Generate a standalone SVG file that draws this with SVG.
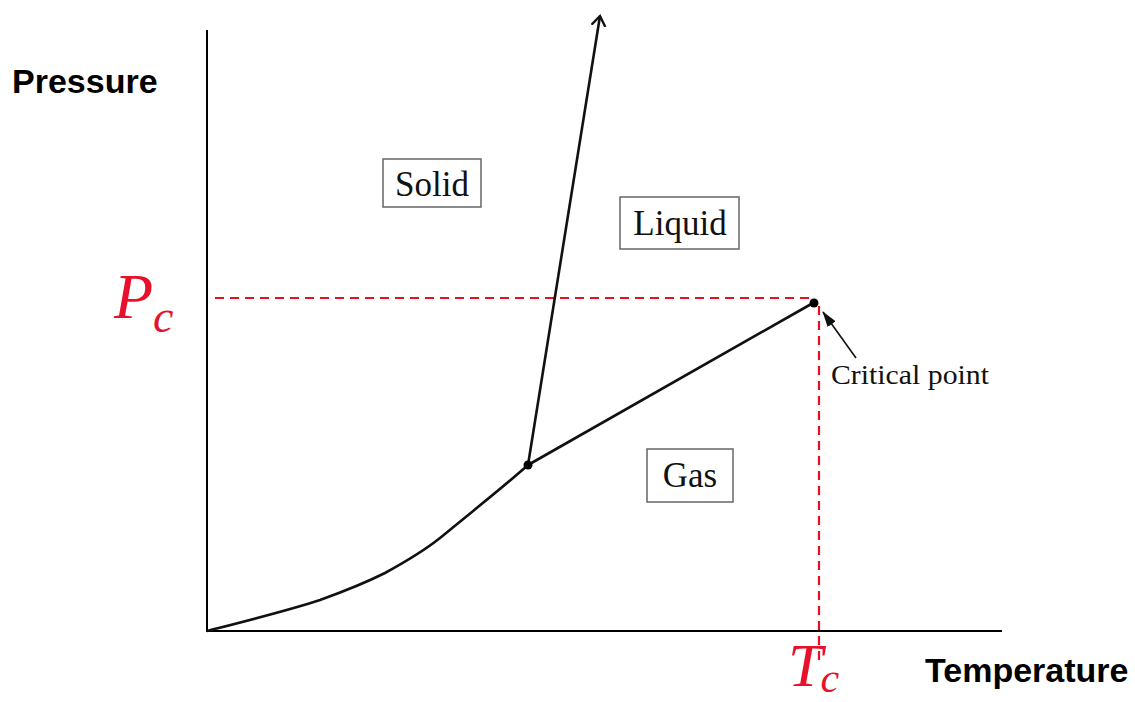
<svg xmlns="http://www.w3.org/2000/svg" width="1135" height="702" viewBox="0 0 1135 702">
<style>
.axis{stroke:#000;stroke-width:2;fill:none}
.curve{stroke:#111;stroke-width:2.6;fill:none}
.dash{stroke:#e8101e;stroke-width:2.2;stroke-dasharray:9,6;fill:none}
.box{fill:#fff;stroke:#666;stroke-width:1.5}
.lbl{font-family:"Liberation Serif",serif;font-size:35px;fill:#111;text-anchor:middle}
.ax{font-family:"Liberation Sans",sans-serif;font-weight:bold;font-size:34px;fill:#000}
.red{font-family:"Liberation Serif",serif;font-style:italic;fill:#e8102a}
</style>
<defs>
<marker id="open" markerWidth="12" markerHeight="18" refX="10" refY="8" orient="auto" markerUnits="userSpaceOnUse">
<path d="M0,1 L10,8 L0,15" fill="none" stroke="#111" stroke-width="2.4"/>
</marker>
<marker id="solid" markerWidth="16" markerHeight="10" refX="15" refY="5" orient="auto" markerUnits="userSpaceOnUse">
<path d="M0,0 L16,5 L0,10 Z" fill="#111"/>
</marker>
</defs>
<rect width="1135" height="702" fill="#fff"/>
<g id="axes">
<path class="axis" d="M207,30 V631 H1002"/>
</g>
<g id="connectors">
<path class="dash" d="M215,298 H815"/>
<path class="dash" d="M819,306 V660"/>
<path class="curve" d="M207,631 C250,620 290,610 320,600 C345,591 365,583 385,573 C405,562 425,550 440,538 C470,513 500,490 528,465"/>
<path class="curve" d="M528,465 L813,303"/>
<path class="curve" d="M528,465 L600,16" marker-end="url(#open)"/>
<path d="M856,358 L823,312" stroke="#111" stroke-width="1.6" fill="none" marker-end="url(#solid)"/>
<circle cx="528" cy="465" r="4.5" fill="#000"/>
<circle cx="814" cy="303" r="4.5" fill="#000"/>
</g>
<g id="solid-node">
<rect class="box" x="383" y="159" width="98" height="48"/>
<text class="lbl" x="432" y="196">Solid</text>
</g>
<g id="liquid-node">
<rect class="box" x="620" y="197" width="119" height="52"/>
<text class="lbl" x="680" y="235">Liquid</text>
</g>
<g id="gas-node">
<rect class="box" x="647" y="449" width="86" height="53"/>
<text class="lbl" x="690" y="487">Gas</text>
</g>
<g id="critical-label">
<text x="831" y="384" font-family="Liberation Serif, serif" font-size="28" fill="#111" textLength="158" lengthAdjust="spacingAndGlyphs">Critical point</text>
</g>
<g id="labels">
<text class="ax" x="12" y="93">Pressure</text>
<text class="ax" x="925" y="682">Temperature</text>
<text class="red" x="114" y="318" font-size="64">P<tspan font-size="46" dx="0" dy="14">c</tspan></text>
<text class="red" x="788" y="686" font-size="62">T<tspan font-size="42" dx="-2" dy="6">c</tspan></text>
</g>
</svg>
